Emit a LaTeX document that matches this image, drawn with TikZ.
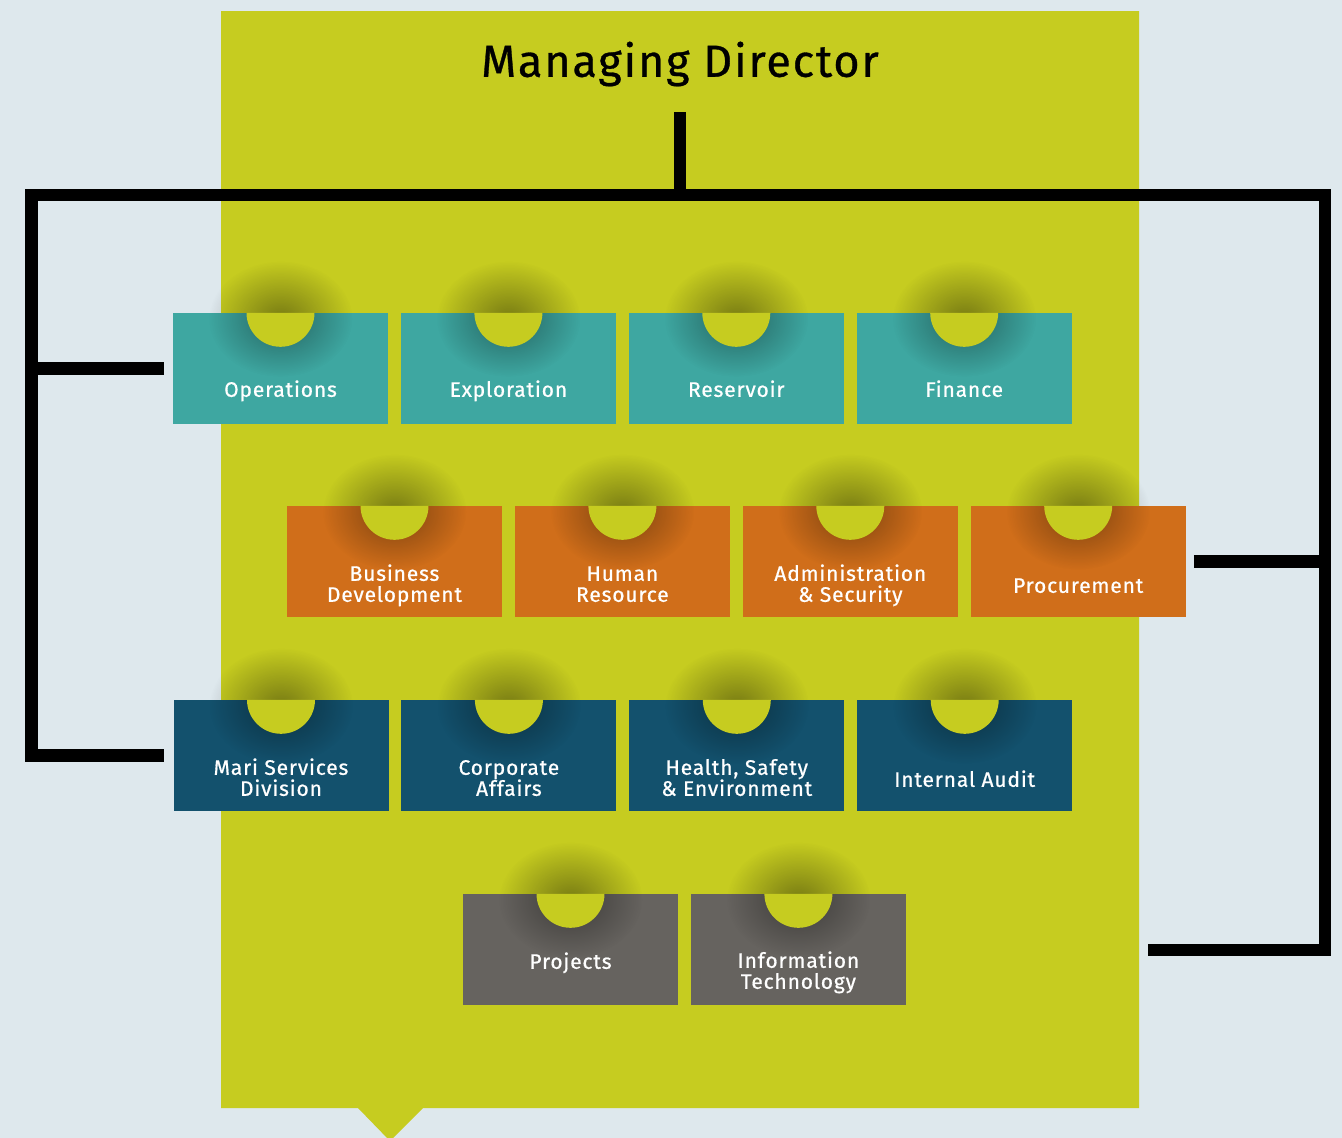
\documentclass[tikz,border=0pt]{standalone}
\usepackage{fontspec}
\setmainfont{Fira Sans}
\newfontfamily\medfont{Fira Sans}[LetterSpace=4,FakeBold=0.7]
\usetikzlibrary{positioning}
\usetikzlibrary{fadings}
\definecolor{paper}{HTML}{DEE8ED}
\definecolor{lime}{HTML}{C6CC20}
\definecolor{tealbox}{HTML}{3EA7A1}
\definecolor{orangebox}{HTML}{D06E1A}
\definecolor{navybox}{HTML}{13516D}
\definecolor{greybox}{HTML}{66635F}
\tikzfading[name=halo,inner color=transparent!0,outer color=transparent!100]
\begin{document}
\begin{tikzpicture}[x=1pt,y=-1pt,
  unit/.style={fill=#1,minimum width=215pt,minimum height=111pt,inner sep=0pt},
  caption/.style={text=white,font=\medfont\fontsize{21}{21}\selectfont,align=center,anchor=base,inner sep=0pt},
  wire/.style={line width=12.5pt}]
\useasboundingbox[fill=paper] (0,0) rectangle (1342,1138);
\fill[lime] (221,11) -- (1139,11) -- (1139,1108) -- (423,1108) -- (390,1141) -- (358,1108) -- (221,1108) -- cycle;
\node[font=\medfont\fontsize{45}{45}\selectfont] (md) at (680,64) {Managing Director};

\node[unit=tealbox] (ops) at (280.5,368.5) {};
\node[unit=tealbox,right=12.5pt of ops] (expl) {};
\node[unit=tealbox,right=12.5pt of expl] (res) {};
\node[unit=tealbox,right=12.5pt of res] (fin) {};
\node[unit=orangebox] (bdev) at (394.5,561.5) {};
\node[unit=orangebox,right=12.5pt of bdev] (hr) {};
\node[unit=orangebox,right=12.5pt of hr] (admin) {};
\node[unit=orangebox,right=12.5pt of admin] (proc) {};
\node[unit=navybox] (mari) at (281,755.5) {};
\node[unit=navybox,right=12.5pt of mari] (corp) {};
\node[unit=navybox,right=12.5pt of corp] (hse) {};
\node[unit=navybox,right=12.5pt of hse] (audit) {};
\node[unit=greybox] (proj) at (570.5,949.5) {};
\node[unit=greybox,right=12.5pt of proj] (it) {};

\foreach \u in {ops,expl,res,fin,bdev,hr,admin,proc,mari,corp,hse,audit,proj,it}{
  \fill[black,fill opacity=0.4,path fading=halo] ([yshift=-6pt]\u.north) ellipse (72pt and 58pt);
  \fill[lime] ([xshift=-34pt]\u.north) arc[start angle=180,end angle=360,radius=34pt] -- cycle;
}

\node[caption] at ([yshift=-84pt]ops.north) {Operations};
\node[caption] at ([yshift=-84pt]expl.north) {Exploration};
\node[caption] at ([yshift=-84pt]res.north) {Reservoir};
\node[caption] at ([yshift=-84pt]fin.north) {Finance};
\node[caption] at ([yshift=-96pt]bdev.north) {Business\\Development};
\node[caption] at ([yshift=-96pt]hr.north) {Human\\Resource};
\node[caption] at ([yshift=-96pt]admin.north) {Administration\\\& Security};
\node[caption] at ([yshift=-87pt]proc.north) {Procurement};
\node[caption] at ([yshift=-96pt]mari.north) {Mari Services\\Division};
\node[caption] at ([yshift=-96pt]corp.north) {Corporate\\Affairs};
\node[caption] at ([yshift=-96pt]hse.north) {Health, Safety\\\& Environment};
\node[caption] at ([yshift=-87pt]audit.north) {Internal Audit};
\node[caption] at ([yshift=-75pt]proj.north) {Projects};
\node[caption] at ([yshift=-95pt]it.north) {Information\\Technology};

\coordinate (stem) at (680,112);
\coordinate (jn) at (680,195);
\coordinate (lt) at (31.5,195);
\coordinate (rt) at (1325,195);
\coordinate (rend) at (1148,950);
\draw[wire] (stem) -- (jn) -- (lt) |- ([xshift=-9pt]mari.west);
\draw[wire] (jn) -- (rt) |- (rend);
\draw[wire] (lt |- ops.west) -- ([xshift=-9pt]ops.west);
\draw[wire] ([xshift=8pt]proc.east) -- (rt |- proc.east);
\end{tikzpicture}
\end{document}
